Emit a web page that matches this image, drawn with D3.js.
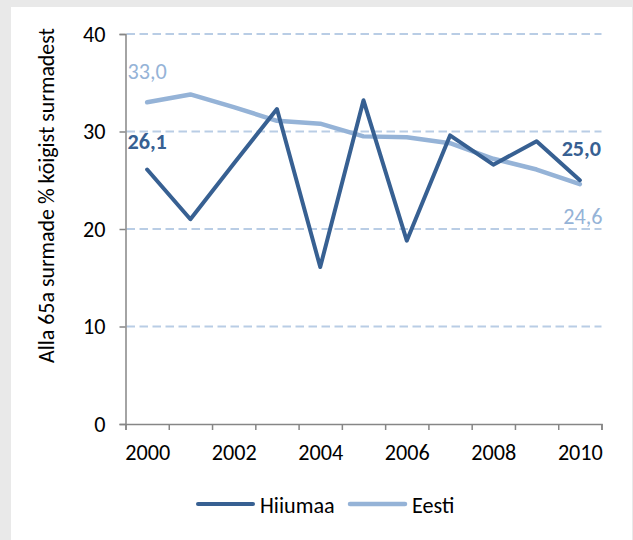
<!DOCTYPE html>
<html>
<head>
<meta charset="utf-8">
<script src="https://cdn.jsdelivr.net/npm/d3@7"></script>
<style>
  html, body { margin: 0; padding: 0; background: #e9e9e9; }
  svg { display: block; }
  text { font-family: Carlito, Calibri, Lato, "Open Sans", sans-serif; }
</style>
</head>
<body>
<svg id="chart" width="633" height="540"></svg>
<script>
// ---- data ----
const years = [2000, 2001, 2002, 2003, 2004, 2005, 2006, 2007, 2008, 2009, 2010];
const hiiumaa = [26.1, 21.0, 26.7, 32.3, 16.1, 33.2, 18.8, 29.6, 26.6, 29.0, 25.0];
const eesti   = [33.0, 33.8, 32.5, 31.1, 30.8, 29.5, 29.4, 28.8, 27.2, 26.1, 24.6];
const seriesNames = ["Hiiumaa", "Eesti"];
const yTicks = [0, 10, 20, 30, 40];
const xLabelYears = [2000, 2002, 2004, 2006, 2008, 2010];
const yTitle = "Alla 65a surmade % kõigist surmadest";
const fmt = v => d3.format(".1f")(v).replace(".", ",");

// ---- styles ----
const C_H = "#376092", C_E = "#95b3d7", C_GRID = "#b9cde5", C_AXIS = "#868686";

const svg = d3.select("#chart");
svg.append("rect").attr("x", 11).attr("y", 7).attr("width", 621).attr("height", 533).attr("fill", "#fff");

// font size fitting so digit width matches reference
const probe = svg.append("text").attr("font-size", 20).text("2000");
const baseSize = 20 * 45 / probe.node().getComputedTextLength();
probe.remove();

const x = d3.scaleLinear().domain([years[0] - 0.5, years[years.length - 1] + 0.5]).range([125.5, 601.5]);
const y = d3.scaleLinear().domain([0, 40]).range([424, 34]);

// gridlines
svg.append("g").selectAll("line").data(yTicks.filter(t => t > 0)).join("line")
  .attr("x1", x.range()[0] + 1).attr("x2", x.range()[1])
  .attr("y1", d => y(d)).attr("y2", d => y(d))
  .attr("stroke", C_GRID).attr("stroke-width", 2).attr("stroke-dasharray", "8.5,4.5");

// y axis
const yAxis = svg.append("g").attr("transform", `translate(${x.range()[0]},0)`)
  .call(d3.axisLeft(y).tickValues(yTicks).tickSize(6).tickPadding(14));
yAxis.select(".domain").attr("stroke", C_AXIS).attr("stroke-width", 1.5);
yAxis.selectAll(".tick line").attr("stroke", C_AXIS).attr("stroke-width", 1.5);
yAxis.selectAll("text").attr("font-size", baseSize).attr("fill", "#000")
  .style("font-family", "Carlito, Calibri, Lato, 'Open Sans', sans-serif");

// x axis: tick marks between categories
const bounds = years.map(v => v - 0.5).concat([years[years.length - 1] + 0.5]);
const xAxis = svg.append("g").attr("transform", `translate(0,${y(0)})`)
  .call(d3.axisBottom(x).tickValues(bounds).tickSize(6).tickFormat(""));
xAxis.select(".domain").attr("stroke", C_AXIS).attr("stroke-width", 1.5);
xAxis.selectAll(".tick line").attr("stroke", C_AXIS).attr("stroke-width", 1.5);

const xLab = svg.append("g").attr("transform", `translate(0,${y(0)})`)
  .call(d3.axisBottom(x).tickValues(xLabelYears).tickSize(0).tickFormat(d3.format("d")));
xLab.select(".domain").remove();
xLab.selectAll("text").attr("dy", null).attr("y", 36).attr("font-size", baseSize).attr("fill", "#000")
  .style("font-family", "Carlito, Calibri, Lato, 'Open Sans', sans-serif");

// y title
const title = svg.append("text")
  .attr("transform", `translate(54,195.5) rotate(-90)`)
  .attr("text-anchor", "middle").attr("font-size", 20).attr("fill", "#000").text(yTitle);
const tl = title.node().getComputedTextLength();
title.attr("font-size", 20 * 335 / tl);

// lines
const line = d3.line().x((d, i) => x(years[i])).y(d => y(d));
svg.append("path").datum(eesti).attr("d", line).attr("fill", "none")
  .attr("stroke", C_E).attr("stroke-width", 4.5).attr("stroke-linejoin", "round").attr("stroke-linecap", "round");
svg.append("path").datum(hiiumaa).attr("d", line).attr("fill", "none")
  .attr("stroke", C_H).attr("stroke-width", 4).attr("stroke-linejoin", "round").attr("stroke-linecap", "round");

// data labels
const last = years.length - 1;
const labels = [
  { v: eesti[0], i: 0, dy: -23, c: C_E, w: "normal" },
  { v: hiiumaa[0], i: 0, dy: -21, c: C_H, w: "bold" },
  { v: hiiumaa[last], i: last, dy: -24, c: C_H, w: "bold" },
  { v: eesti[last], i: last, dy: 40, c: C_E, w: "normal", dx: 1.5 }
];
svg.append("g").selectAll("text").data(labels).join("text")
  .attr("x", d => x(years[d.i]) + (d.dx || 0) + (d.i === last ? 1.5 : 0))
  .attr("y", d => y(d.v) + d.dy)
  .attr("text-anchor", "middle").attr("font-size", baseSize)
  .attr("font-weight", d => d.w).attr("fill", d => d.c)
  .text(d => fmt(d.v));

// legend
const legend = [
  { name: seriesNames[0], c: C_H, x0: 198, w: 4 },
  { name: seriesNames[1], c: C_E, x0: 350, w: 4.5 }
];
const lg = svg.append("g").selectAll("g").data(legend).join("g");
lg.append("line").attr("x1", d => d.x0).attr("x2", d => d.x0 + 55).attr("y1", 504).attr("y2", 504)
  .attr("stroke", d => d.c).attr("stroke-width", d => d.w).attr("stroke-linecap", "round");
lg.append("text").attr("x", d => d.x0 + 62).attr("y", 513).attr("font-size", baseSize).attr("fill", "#000")
  .text(d => d.name);
</script>
</body>
</html>
